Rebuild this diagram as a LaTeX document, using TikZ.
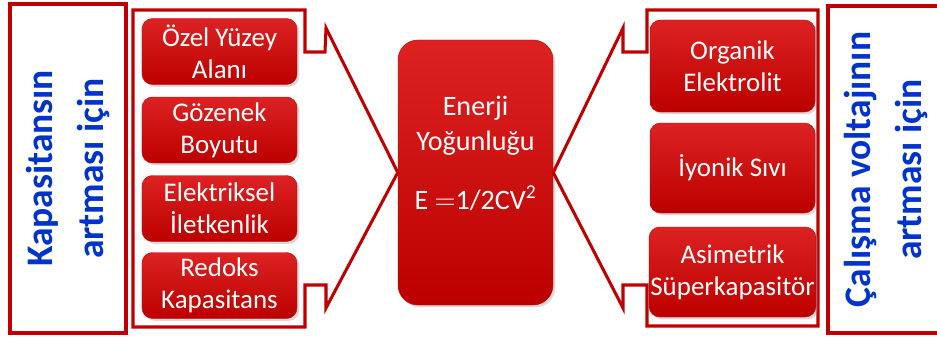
\documentclass[tikz,border=0pt]{standalone}
\usepackage{fontspec}
\setmainfont{Carlito}
\usetikzlibrary{shadows}
\definecolor{framered}{RGB}{192,0,0}
\definecolor{boxred}{RGB}{202,4,4}
\definecolor{boxtop}{RGB}{220,34,34}
\definecolor{boxlow}{RGB}{188,0,0}
\definecolor{labelblue}{RGB}{0,51,204}

\begin{document}
\begin{tikzpicture}[x=0.03cm, y=-0.03cm,
  factor/.style={rectangle, rounded corners=9pt, top color=boxtop, middle color=boxred, bottom color=boxlow, draw=boxred, text=white, align=center, inner sep=1pt, font=\fontsize{23}{27}\selectfont, drop shadow={opacity=0.3, shadow xshift=2pt, shadow yshift=-2pt}},
  leftfactor/.style={factor, minimum width=4.65cm, minimum height=1.98cm},
  rightfactor/.style={factor, minimum width=4.95cm, minimum height=2.7cm},
  frame/.style={rectangle, draw=framered, line width=2.6pt, rotate=90, text=labelblue, align=center, font=\fontsize{32}{43}\selectfont\bfseries},
  bracket/.style={draw=framered, line width=2.6pt, line join=miter}
]
\useasboundingbox (0,0) rectangle (937,336);

\node[frame, minimum width=9.87cm, minimum height=3.48cm] (capleft) at (68,168.5) {Kapasitansın\\artması için};
\node[frame, minimum width=9.81cm, minimum height=3.48cm] (volright) at (886,169.5) {Çalışma voltajının\\artması için};

\node[factor, rounded corners=17pt, minimum width=4.65cm, minimum height=7.95cm, font=\fontsize{24}{30}\selectfont] (energy) at (475.5,172.5) {Enerji\\Yoğunluğu\\[20pt]$\mathrm{E}$ $=$1/2CV\textsuperscript{2}\\[4pt]\mbox{}};

\draw[bracket] (133,10) -- (305,10) -- (305,52) -- (325,52) -- (326,28) -- (energy.west) -- (326,308) -- (326,285) -- (305,285) -- (305,327) -- (133,327) -- cycle;
\draw[bracket] (818,10) -- (647,10) -- (647,52) -- (623,52) -- (623,28) -- (energy.east) -- (623,308) -- (623,285) -- (647,285) -- (647,326) -- (818,326) -- cycle;

\node[leftfactor] (surface) at (219.5,51.5) {Özel Yüzey\\Alanı};
\node[leftfactor] (pore) at (219.5,130) {Gözenek\\Boyutu};
\node[leftfactor] (conduct) at (219.5,208.5) {Elektriksel\\İletkenlik};
\node[leftfactor] (redox) at (219.5,285.5) {Redoks\\Kapasitans};

\node[rightfactor, minimum height=2.76cm] (organic) at (732.5,66) {Organik\\Elektrolit};
\node[rightfactor] (ionic) at (732.5,168) {İyonik Sıvı};
\node[rightfactor] (asym) at (732.5,272) {Asimetrik\\Süperkapasitör};
\end{tikzpicture}
\end{document}
